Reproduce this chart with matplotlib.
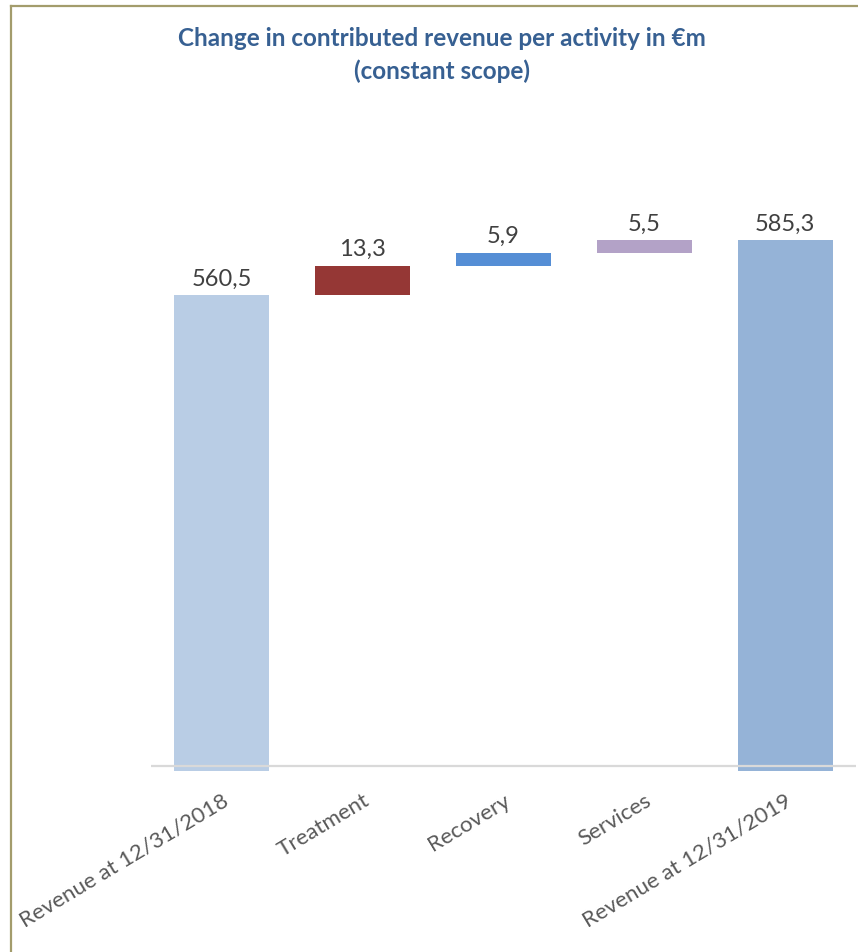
import numpy as np
import matplotlib.pyplot as plt
from matplotlib.lines import Line2D

# data
categories = ["Revenue at 12/31/2018", "Treatment", "Recovery", "Services", "Revenue at 12/31/2019"]
start_value = 560.5
deltas = [13.3, 5.9, 5.5]
end_value = 585.3
labels = ["560,5", "13,3", "5,9", "5,5", "585,3"]
colors = ["#B9CDE5", "#953735", "#558ED5", "#B3A2C7", "#95B3D7"]

plt.rcParams['font.family'] = ['Lato', 'DejaVu Sans']

heights = [start_value] + deltas + [end_value]
bottoms = [0, start_value]
for d in deltas[:-1]:
    bottoms.append(bottoms[-1] + d)
bottoms.append(0)
tops = [b + h for b, h in zip(bottoms, heights)]

fig = plt.figure(figsize=(8.58, 9.52), dpi=100)
ax = fig.add_axes([151/858, (952-771)/952, (855.5-151)/858, (771-130)/952])

x = np.arange(len(categories))
ax.bar(x, heights, bottom=bottoms, width=0.674, color=colors, zorder=2)
ax.set_xlim(-0.5, 4.5)
ax.set_ylim(346, 635)

# axis line (slightly above the plot bottom)
ax.axhline(348.3, color="#D9D9D9", lw=1.6, zorder=3)

for xi, t, lab in zip(x, tops, labels):
    ax.annotate(lab, (xi, t), xytext=(0, 4), textcoords="offset points",
                ha="center", va="bottom", fontsize=17, color="#404040")

ax.set_yticks([])
ax.set_xticks(x)
ax.set_xticklabels(categories, rotation=31, ha="right", va="top",
                   rotation_mode="anchor", fontsize=16, color="#595959")
ax.tick_params(axis="x", length=0, pad=14)
for s in ax.spines.values():
    s.set_visible(False)

fig.text(0.5146, 1 - 38/952, "Change in contributed revenue per activity in €m",
         ha="center", va="center", fontsize=17.5, fontweight="bold", color="#376092")
fig.text(0.5146, 1 - 71/952, "(constant scope)",
         ha="center", va="center", fontsize=17.5, fontweight="bold", color="#376092")

# chart border (left and top visible)
fig.add_artist(Line2D([11/858, 11/858], [0, 1 - 6/952], transform=fig.transFigure,
                      color="#A39C6C", lw=1.6))
fig.add_artist(Line2D([11/858, 1], [1 - 6/952, 1 - 6/952], transform=fig.transFigure,
                      color="#A39C6C", lw=1.6))

fig.savefig("out.png", dpi=100)
